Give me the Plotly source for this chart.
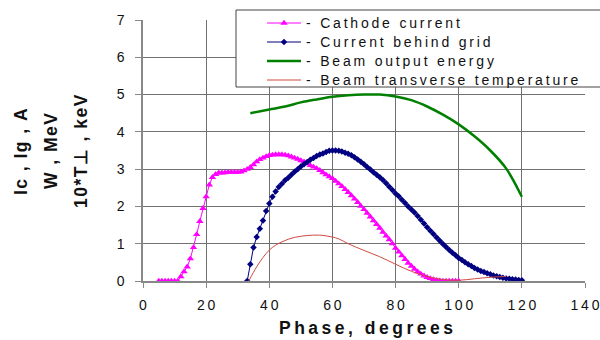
import plotly.graph_objects as go

# ---------------- data ----------------
cathode_x = list(range(5, 101))
cathode_y = [0, 0, 0, 0, 0, 0, 0,                      # 5..11
             0.12, 0.25, 0.38, 0.6, 0.9, 1.25, 1.6, 1.95, 2.26,   # 12..20
             2.58, 2.78, 2.86, 2.9, 2.9, 2.91, 2.92, 2.92, 2.92, 2.92,  # 21..30
             2.93, 2.96, 3.0, 3.05, 3.12, 3.2, 3.26, 3.3, 3.34, 3.37,   # 31..40
             3.38, 3.39, 3.39, 3.39, 3.38, 3.36, 3.33, 3.3, 3.27, 3.23, # 41..50
             3.2, 3.15, 3.1, 3.06, 3.02, 2.97, 2.91, 2.85, 2.8, 2.75,   # 51..60
             2.68, 2.61, 2.54, 2.46, 2.38, 2.29, 2.2, 2.11, 2.01, 1.92, # 61..70
             1.82, 1.72, 1.62, 1.52, 1.42, 1.31, 1.21, 1.11, 1.0, 0.88, # 71..80
             0.78, 0.68, 0.58, 0.48, 0.4, 0.32, 0.25, 0.19, 0.14, 0.1,  # 81..90
             0.07, 0.04, 0.02, 0.01, 0, 0, 0, 0, 0, 0]                  # 91..100

grid_x = list(range(33, 121))
grid_y = [0, 0.45, 0.9, 1.18, 1.4, 1.62, 1.88, 2.08,                   # 33..40
          2.26, 2.4, 2.52, 2.61, 2.7, 2.77, 2.85, 2.93, 3.0, 3.07,     # 41..50
          3.13, 3.19, 3.25, 3.3, 3.35, 3.39, 3.42, 3.46, 3.49, 3.5,    # 51..60
          3.5, 3.49, 3.47, 3.44, 3.41, 3.37, 3.32, 3.26, 3.2, 3.13,    # 61..70
          3.06, 2.99, 2.92, 2.85, 2.78, 2.71, 2.62, 2.53, 2.44, 2.35,  # 71..80
          2.27, 2.18, 2.09, 2.0, 1.92, 1.84, 1.74, 1.64, 1.54, 1.44,   # 81..90
          1.35, 1.26, 1.17, 1.08, 0.99, 0.91, 0.83, 0.76, 0.69, 0.62,  # 91..100
          0.56, 0.5, 0.45, 0.4, 0.35, 0.31, 0.27, 0.24, 0.21, 0.18,    # 101..110
          0.15, 0.13, 0.11, 0.09, 0.07, 0.06, 0.05, 0.04, 0.03, 0.02]  # 111..120

energy_x = [34, 40, 45, 50, 55, 60, 65, 70, 75, 80, 85, 90, 95, 100, 105, 110, 115, 120]
energy_y = [4.5, 4.6, 4.68, 4.79, 4.87, 4.94, 4.98, 5.0, 5.0, 4.95, 4.85, 4.68, 4.46,
            4.2, 3.88, 3.5, 3.02, 2.26]

temp_x = [33.5, 36, 38, 40, 42, 44, 46, 48, 50, 52, 54, 56, 58, 60, 62, 65, 70, 75,
          80, 85, 90, 95, 100, 105, 110, 115]
temp_y = [0, 0.38, 0.63, 0.83, 0.96, 1.05, 1.12, 1.17, 1.2, 1.22, 1.23, 1.23, 1.21,
          1.18, 1.13, 1.0, 0.82, 0.65, 0.45, 0.26, 0.12, 0.04, 0.02, 0.06, 0.1, 0.12]

series_names = ["- Cathode current", "- Current behind grid",
                "- Beam output energy", "- Beam transverse temperature"]
x_ticks = [0, 20, 40, 60, 80, 100, 120, 140]
y_ticks = [0, 1, 2, 3, 4, 5, 6, 7]
x_title = "Phase, degrees"
y_title_lines = ["Ic , Ig , A", "W , MeV", "10*T⊥ , keV"]


def sp(s, gap="\u2009"):
    return gap.join(list(s))


def leg(s):
    return "<span style='font-size:14px'>" + sp(s) + "</span>"


FONT = "Liberation Sans, Arial, sans-serif"
L, R, T, B = 143, 15, 20, 59
PW, PH = 600 - L - R, 340 - T - B


def px_x(p):
    return (p - L) / PW


def px_y(p):
    return (340 - B - p) / PH


fig = go.Figure()
fig.add_trace(go.Scatter(x=cathode_x, y=cathode_y, name=leg(series_names[0]),
                         mode="lines+markers",
                         line=dict(color="#ff00ff", width=1),
                         marker=dict(symbol="triangle-up", size=6.5, color="#ff00ff")))
fig.add_trace(go.Scatter(x=grid_x, y=grid_y, name=leg(series_names[1]),
                         mode="lines+markers",
                         line=dict(color="#000080", width=1),
                         marker=dict(symbol="diamond", size=5, color="#000080")))
fig.add_trace(go.Scatter(x=energy_x, y=energy_y, name=leg(series_names[2]),
                         mode="lines", line=dict(color="#008000", width=2.5, shape="spline")))
fig.add_trace(go.Scatter(x=temp_x, y=temp_y, name=leg(series_names[3]),
                         mode="lines", line=dict(color="#d04a40", width=1, shape="spline")))

fig.update_layout(
    width=600, height=340,
    margin=dict(l=L, r=R, t=T, b=B, autoexpand=False),
    paper_bgcolor="white", plot_bgcolor="white",
    font=dict(family=FONT, size=14, color="#111"),
    showlegend=True,
    legend=dict(x=px_x(262), y=px_y(8.5), xanchor="left", yanchor="top",
                bgcolor="rgba(0,0,0,0)", borderwidth=0,
                font=dict(size=12, color="#111"), tracegroupgap=0, itemwidth=34),
    xaxis=dict(range=[0, 140], tickvals=x_ticks, ticktext=[sp(str(v)) for v in x_ticks],
               showgrid=True, gridcolor="#707070", gridwidth=1,
               showline=True, linecolor="#888", linewidth=1.5,
               ticks="outside", ticklen=5, tickcolor="#888",
               zeroline=False, ticklabelstandoff=5),
    yaxis=dict(range=[0, 7], tickvals=y_ticks, ticktext=[str(v) for v in y_ticks],
               showgrid=True, gridcolor="#707070", gridwidth=1,
               showline=True, linecolor="#888", linewidth=1.5,
               ticks="outside", ticklen=6, tickcolor="#888",
               zeroline=False, ticklabelstandoff=8),
    shapes=[dict(type="rect", xref="paper", yref="paper",
                 x0=px_x(236), x1=px_x(620), y0=px_y(87), y1=px_y(10),
                 fillcolor="white", line=dict(color="#444", width=1), layer="above")],
)

annotations = [dict(text="<b>" + sp(x_title) + "</b>", xref="paper", yref="paper",
                    x=px_x(366), y=px_y(328), xanchor="center", yanchor="middle", showarrow=False,
                    font=dict(size=17.5, color="#111", family=FONT))]
for i, line in enumerate(y_title_lines):
    p = 21 + 30 * i
    annotations.append(dict(text="<b>" + sp(line, "\u200a") + "</b>", xref="paper", yref="paper",
                            x=px_x(p), y=px_y(151), xanchor="center", yanchor="middle",
                            textangle=-90, showarrow=False,
                            font=dict(size=17.5, color="#111", family=FONT)))
fig.update_layout(annotations=annotations)

fig.write_html("out.html")
